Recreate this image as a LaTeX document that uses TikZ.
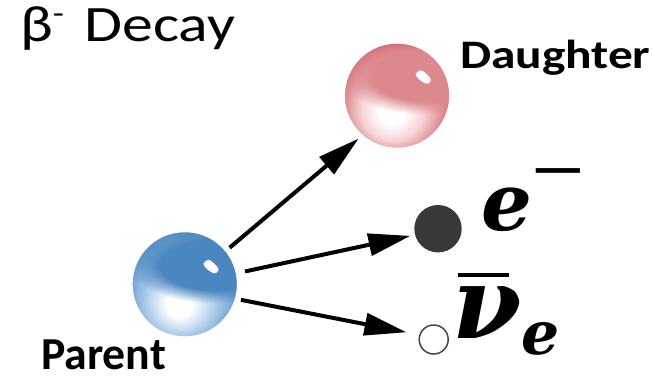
\documentclass[tikz,border=0pt]{standalone}
\usepackage{fontspec}
\setmainfont{Carlito}
\newfontfamily\mathserif{DejaVu Serif}
\newfontfamily\timesf{Liberation Serif}
\usetikzlibrary{arrows.meta,fadings}
\definecolor{bluemain}{RGB}{74,134,192}
\definecolor{bluelight}{RGB}{178,208,236}
\definecolor{reddark}{RGB}{200,84,92}
\definecolor{redmain}{RGB}{220,136,142}
\definecolor{redlight}{RGB}{246,212,214}
\definecolor{edark}{RGB}{56,56,56}
\definecolor{nugray}{RGB}{70,70,70}
\pgfdeclareradialshading{bluebase}{\pgfpoint{-3bp}{-11bp}}{color(0bp)=(white); color(6bp)=(white); color(16bp)=(bluelight); color(31bp)=(bluemain); color(50bp)=(bluemain)}
\pgfdeclareradialshading{redbase}{\pgfpoint{-3bp}{-9bp}}{color(0bp)=(white); color(6bp)=(white); color(15bp)=(redlight); color(24bp)=(redmain); color(33bp)=(reddark); color(50bp)=(reddark)}
\pgfdeclareradialshading{softdiskshade}{\pgfpointorigin}{color(0bp)=(white); color(16bp)=(white); color(25bp)=(black); color(50bp)=(black)}
\pgfdeclarefading{softdisk}{\pgfuseshading{softdiskshade}}
\tikzset{
  sphere/.style={circle, minimum size=104pt, inner sep=0pt, outer sep=0pt},
  arr/.style={line width=4pt, -{Triangle[length=42pt,width=22pt]}},
  lbl/.style={anchor=base west, inner sep=0pt, outer sep=0pt},
}
\newcommand{\glossy}[4]{% node, base shading, dome colour, highlight offset
  \shade[shading=#2] (#1.center) circle[radius=52pt];
  \begin{scope}
    \clip (#1.center) circle[radius=52pt];
    \fill[#3, path fading=softdisk] ([xshift=30pt,yshift=19pt]#1.center) ellipse[x radius=85pt, y radius=38pt];
  \end{scope}
  \begin{scope}[shift={(#1.center)}]
    \fill[white, path fading=circle with fuzzy edge 20 percent, shift={(#4)}, rotate=-40] (0,0) ellipse[x radius=10pt, y radius=4.5pt];
  \end{scope}
}
\begin{document}
\begin{tikzpicture}[x=1pt,y=-1pt]
\useasboundingbox (0,0) rectangle (652,377);
\node[sphere] (parent) at (184.7,284.3) {};
\node[sphere] (daughter) at (397,95.7) {};
\glossy{parent}{bluebase}{bluemain}{26pt,18pt}
\glossy{daughter}{redbase}{redmain}{26pt,19pt}
\node[circle, fill=edark, minimum size=47.4pt, inner sep=0pt] (electron) at (438,228.7) {};
\node[circle, draw=nugray, line width=1.5pt, fill=white, minimum size=29pt, inner sep=0pt] (nu) at (433.7,339.5) {};
\draw[arr, shorten <=6pt, shorten >=5.6pt] (parent.39) -- (daughter.229);
\draw[arr, shorten <=9.7pt, shorten >=4.6pt] (parent.12) -- (electron.195);
\draw[arr, shorten <=6.4pt, shorten >=13pt] (parent.-16) -- (nu.162);
\node[lbl, xscale=1.21, font=\fontsize{51}{51}\selectfont] (title) at (20,42) {β\raisebox{18pt}{\fontsize{30}{30}\selectfont -}\hspace{17pt}Decay};
\node[lbl, xscale=1.22, font=\bfseries\fontsize{40.5}{40.5}\selectfont] (dlabel) at (460,68.3) {Daughter};
\node[lbl, font=\bfseries\fontsize{45.8}{45.8}\selectfont] (plabel) at (41,369.5) {Parent};
\node[lbl] (elabel) at (481,230) {{\mathserif\bfseries\itshape\fontsize{80}{80}\selectfont e}\raisebox{28pt}{\timesf\fontsize{95}{95}\selectfont −}};
\node[lbl] (nulabel) at (452,338) {\rlap{\hspace{6pt}\raisebox{61.3pt}{\rule{51pt}{3.5pt}}}{\mathserif\bfseries\itshape\fontsize{100}{100}\selectfont ν}\raisebox{-16pt}{\mathserif\bfseries\itshape\fontsize{60}{60}\selectfont e}};
\end{tikzpicture}
\end{document}
